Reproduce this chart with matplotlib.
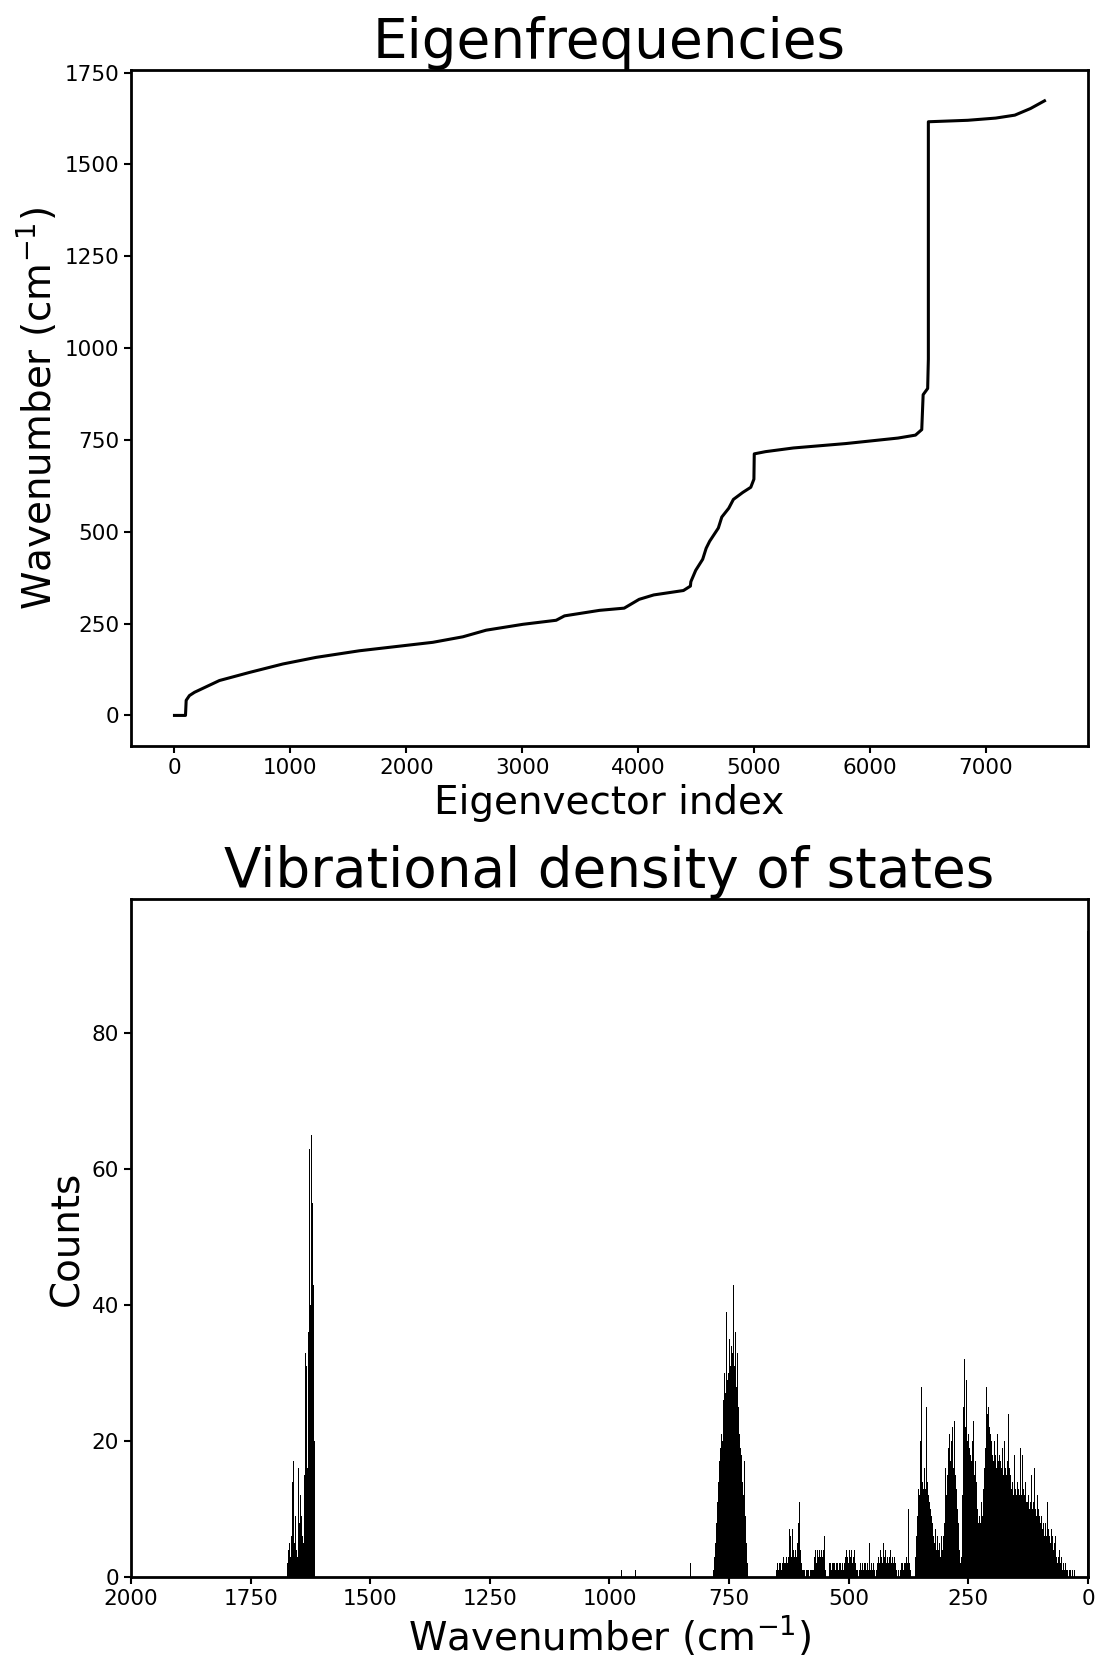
import numpy as np
import matplotlib.pyplot as plt

# eigenfrequency curve
eig_index = [0, 95, 101, 129, 173, 388, 647, 935, 1222, 1596, 2229, 2488, 2689,
             3006, 3293, 3365, 3667, 3880, 4009, 4135, 4391, 4451, 4455, 4497,
             4557, 4587, 4617, 4692, 4722, 4782, 4822, 4903, 4972, 4999, 5002,
             5099, 5339, 5791, 6242, 6393, 6447, 6459, 6498, 6504, 6504, 6844,
             7085, 7250, 7385, 7506]
eig_freq = [0, 0, 41, 54, 63, 95, 117, 140, 158, 176, 199, 214, 232,
            248, 259, 271, 286, 292, 316, 328, 340, 352, 364, 395,
            425, 455, 474, 510, 540, 564, 588, 607, 621, 643, 712,
            718, 728, 740, 755, 763, 778, 873, 890, 970, 1616, 1620,
            1626, 1634, 1652, 1673]

# histogram counts, 2 cm-1 steps going down from the start wavenumber
amide_start = 1672
amide_counts = [2, 4, 5, 3, 6, 14, 17, 5, 9, 4, 3, 16, 8, 12, 9, 6, 5, 15, 33,
                31, 16, 36, 51, 63, 40, 65, 55, 43, 20]

band750_start = 782
band750_counts = [1, 3, 5, 8, 11, 14, 17, 19, 21, 20, 26, 30, 27, 39, 29, 30, 35,
                  31, 34, 30, 33, 43, 31, 36, 28, 33, 25, 21, 19, 18, 14, 12, 17,
                  9, 5, 2]

sparse_start = 650
sparse_counts = [1, 2, 1, 2, 2, 1, 2, 3, 2, 2, 3, 2, 3, 7, 6, 3, 7, 4, 3, 4, 3, 5,
                 4, 8, 11, 4, 2, 1, 1, 1, 0, 1, 1, 1, 0, 1, 1, 1, 1, 3, 4, 2, 4, 3,
                 4, 3, 2, 4, 3, 4, 6, 1, 0, 0, 0, 2, 2, 1, 2, 2, 2, 1, 2, 2, 1, 2,
                 2, 1, 2, 2, 1, 2, 3, 4, 3, 2, 4, 3, 4, 2, 3, 4, 2, 1, 1, 0, 1, 2,
                 1, 2, 1, 2, 1, 2, 1, 2, 1, 5, 1, 2, 1, 2, 1, 0, 1, 2, 3, 2, 4, 3,
                 2, 5, 3, 4, 2, 3, 4, 2, 3, 4, 2, 3, 2, 3, 2, 1, 0, 1, 0, 1, 2, 2,
                 1, 2, 2, 3, 2, 10, 2, 3, 1, 0, 0, 0, 0]

low_start = 360
low_counts = [3, 6, 9, 13, 12, 20, 28, 14, 13, 16, 13, 25, 14, 12, 11, 10, 9, 11,
              8, 6, 5, 7, 4, 6, 4, 5, 3, 6, 4, 6,
              8, 16, 12, 15, 19, 21, 17, 20, 22, 16, 18, 23, 15, 13, 10, 8, 4, 2, 3,
              12, 25, 32, 22, 29, 20, 21, 19, 18, 17, 20, 23, 15, 17, 14, 12, 10, 8,
              9, 8, 11, 9, 13,
              16, 19, 28, 24, 25, 22, 21, 20, 18, 17, 20, 18, 16, 21, 17, 22, 18,
              17, 16, 19, 15, 20, 16, 15, 17, 24, 16, 15,
              13, 14, 12, 18, 13, 12, 14, 13, 12, 19, 13, 12, 18, 13, 12, 14, 11,
              11, 12, 10, 11, 15, 10, 11, 16, 10, 9, 12, 10, 9, 8,
              9, 7, 10, 8, 6, 8, 6, 11, 7, 6, 5, 7, 6, 4, 5, 6, 3,
              2, 3, 4, 2, 3, 1, 2, 1, 2, 1, 1,
              1, 0, 1, 1, 0, 1, 0, 1]

isolated_wn = [975, 946, 892, 890, 888, 886, 884, 882, 831, 807, 0.5]
isolated_counts = [1, 1, 5, 3, 4, 2, 1, 1, 2, 1, 95]

plt.rcParams['font.family'] = 'DejaVu Sans'

fig = plt.figure(figsize=(10.96, 16.57), dpi=100)
ax1 = fig.add_axes([0.1195, 0.5497, 0.8732, 0.408])
ax2 = fig.add_axes([0.1195, 0.0483, 0.8732, 0.4092])

ax1.plot(eig_index, eig_freq, color='black', linewidth=2.2)
ax1.set_title('Eigenfrequencies', fontsize=39.5)
ax1.set_xlabel('Eigenvector index', fontsize=28)
ax1.set_ylabel('Wavenumber (cm$^{-1}$)', fontsize=28)
ax1.set_yticks(np.arange(0, 1751, 250))
ax1.set_xticks(np.arange(0, 7001, 1000))

for start, counts in [(amide_start, amide_counts), (band750_start, band750_counts),
                      (sparse_start, sparse_counts), (low_start, low_counts)]:
    wn = np.arange(start, start - 2 * len(counts), -2)
    ax2.bar(wn, counts, width=2, color='black', linewidth=0)
ax2.bar(isolated_wn, isolated_counts, width=1.2, color='black', linewidth=0)

ax2.set_xlim(2000, 0)
ax2.set_ylim(0, 99.75)
ax2.set_xticks(np.arange(2000, -1, -250))
ax2.set_yticks(np.arange(0, 81, 20))
ax2.set_title('Vibrational density of states', fontsize=39.5)
ax2.set_xlabel('Wavenumber (cm$^{-1}$)', fontsize=28)
ax2.set_ylabel('Counts', fontsize=28)

for ax in (ax1, ax2):
    ax.tick_params(labelsize=15.5, width=1.5, length=5)
    for s in ax.spines.values():
        s.set_linewidth(2)

fig.savefig('out.png', dpi=100)
